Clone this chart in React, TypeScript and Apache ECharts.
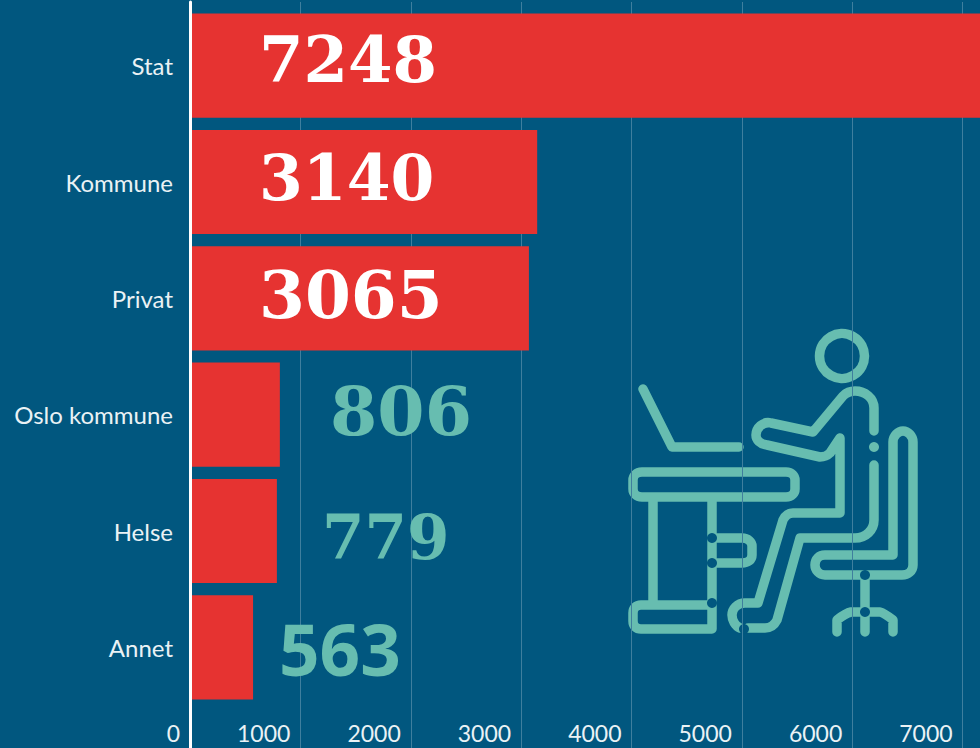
import React, { useEffect, useRef } from "react";
import * as echarts from "echarts";

const categories = ["Stat", "Kommune", "Privat", "Oslo kommune", "Helse", "Annet"];
const values = [7248, 3140, 3065, 806, 779, 563];
const valueLabelColors = ["#FFFFFF", "#FFFFFF", "#FFFFFF", "#67BDB0", "#67BDB0", "#67BDB0"];
const valueLabelOffsets = [[68, 46], [68, 48], [68, 49], [139, 48], [131, 59], [88, 53]];
const valueLabelFonts = ["DejaVu Serif", "DejaVu Serif", "DejaVu Serif", "DejaVu Serif", "DejaVu Serif", "Open Sans"];
const valueLabelSizes = [64, 63, 66, 68, 61, 71];

const BG = "#01577F";
const RED = "#E63331";
const TEAL = "#67BDB0";

const ICON_PATH =
  "M643 389L672 447L739 447" +
  "M874 431L874 408C874 398 865 391 855 391C850 391 846 393 843 396L813 432L771 423C763 421 756 428 756 435C756 440 760 444 767 445L820 457C824 457 828 455 830 453L840 438L840 513L793 513C788 513 785 516 783 520L758 603L745 603C737 603 732 609 732 615C732 620 735 626 740 628" +
  "M748 628L765 628C771 628 775 624 777 620L800 538L855 538C866 538 874 530 874 520L874 465" +
  "M893 555L893 442C893 436 898 431 903 431C908 431 913 436 913 442L913 565C913 571 908 575 902 575L825 575C819 575 815 570 815 565C815 559 819 555 825 555Z" +
  "M865 577L865 632M837 632L837 620C842 616 846 613 851 612L880 612C884 613 888 616 893 620L893 632" +
  "M642 472L786 472C792 472 795 476 795 480L795 489C795 493 792 497 786 497L642 497C636 497 633 493 633 489L633 480C633 476 636 472 642 472Z" +
  "M653 497L653 600M712 497L712 629L641 629C636 629 633 626 633 621L633 613C633 608 636 605 641 605L712 605" +
  "M712 538L742 538C748 538 752 542 752 546L752 555C752 560 748 563 742 563L712 563";

echarts.graphic.registerShape("deskIcon", echarts.graphic.extendPath(ICON_PATH, {}));

const iconDots = [[712, 538], [712, 563], [712, 603], [865, 612], [865, 575], [744, 629]];

export default function App() {
  const ref = useRef<HTMLDivElement>(null);
  useEffect(() => {
    document.body.style.margin = "0";
    const chart = echarts.init(ref.current!, null, { renderer: "svg" });
    chart.setOption({
      animation: false,
      backgroundColor: BG,
      grid: [
        { left: 190, width: 883, top: 2, bottom: 0, outerBoundsMode: "none" },
        { left: 191, width: 882, top: 7.5, height: 698, outerBoundsMode: "none" },
      ],
      xAxis: [
        {
          gridIndex: 0,
          type: "value",
          min: 0,
          max: 8000,
          interval: 1000,
          axisLine: { show: false },
          axisTick: { show: false },
          splitLine: { show: true, lineStyle: { color: "#3F7F9E", width: 1 } },
          axisLabel: {
            inside: true,
            align: "right",
            margin: 4,
            padding: [0, 10, 0, 0],
            color: "#EAF2F5",
            fontFamily: "Lato",
            fontSize: 23,
            showMaxLabel: false,
            formatter: (v: number) => String(v),
          },
        },
        { gridIndex: 1, type: "value", min: 0, max: 8000, show: false },
      ],
      yAxis: [
        {
          gridIndex: 0,
          type: "value",
          min: 0,
          max: 1,
          position: "left",
          z: 10,
          axisLine: { show: true, onZero: false, lineStyle: { color: "#FFFFFF", width: 3 } },
          axisTick: { show: false },
          axisLabel: { show: false },
          splitLine: { show: false },
        },
        {
          gridIndex: 1,
          type: "category",
          inverse: true,
          data: categories,
          axisLine: { show: false },
          axisTick: { show: false },
          axisLabel: {
            color: "#EAF2F5",
            fontFamily: "Lato",
            fontSize: 24,
            margin: 18,
            padding: [0, 0, 2, 0],
          },
        },
      ],
      series: [
        {
          type: "bar",
          xAxisIndex: 1,
          yAxisIndex: 1,
          barCategoryGap: "10.5%",
          itemStyle: { color: RED },
          data: values.map((value, i) => ({
            value,
            label: {
              show: true,
              position: valueLabelOffsets[i],
              verticalAlign: "middle",
              color: valueLabelColors[i],
              fontFamily: valueLabelFonts[i],
              fontWeight: "bold",
              fontSize: valueLabelSizes[i],
            },
          })),
        },
      ],
      graphic: [
        {
          type: "group",
          z: 50,
          children: [
            {
              type: "deskIcon",
              x: 0,
              y: 0,
              style: { fill: null, stroke: TEAL, lineWidth: 9.5, lineCap: "round", lineJoin: "round" },
            },
            { type: "circle", shape: { cx: 842, cy: 356, r: 22.5 }, style: { fill: null, stroke: TEAL, lineWidth: 9.5 } },
            { type: "circle", shape: { cx: 874, cy: 447, r: 5 }, style: { fill: TEAL } },
            ...iconDots.map(([cx, cy]) => ({
              type: "circle",
              shape: { cx, cy, r: 5 },
              style: { fill: BG },
            })),
          ],
        },
      ],
    });
    return () => chart.dispose();
  }, []);
  return <div ref={ref} style={{ width: 980, height: 748 }} />;
}
